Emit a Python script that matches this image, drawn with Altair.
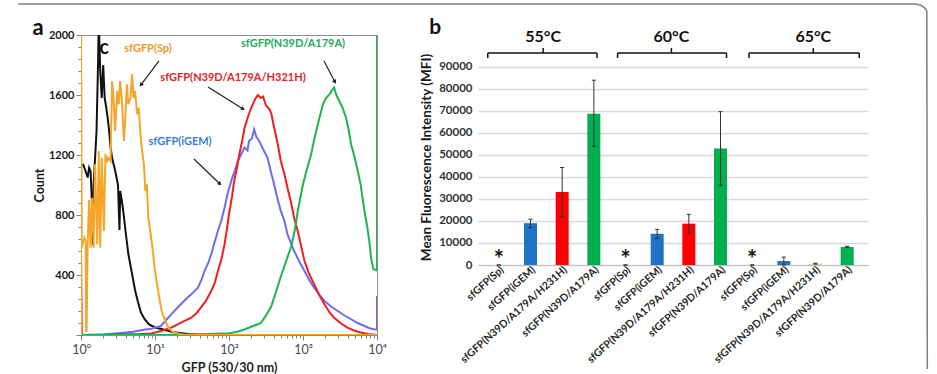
import altair as alt
import pandas as pd

# ---------------- panel a : flow-cytometry histograms (x stored as log10 GFP) ----------------
BLACK_EXP = [0.00, 0.03, 0.06, 0.09, 0.11, 0.13, 0.15, 0.16, 0.17, 0.19, 0.21, 0.23, 0.24, 0.26, 0.28, 0.30,
             0.32, 0.34, 0.36, 0.38, 0.40, 0.42, 0.44, 0.46, 0.48, 0.50, 0.52, 0.53, 0.55, 0.57, 0.60, 0.62,
             0.64, 0.67, 0.70, 0.73, 0.77, 0.81, 0.86, 0.92, 1.00, 1.10, 1.25, 1.45, 1.70, 4.00]
BLACK_CNT = [1130, 1135, 1095, 1050, 1115, 1090, 850, 600, 1000, 1180, 1360, 1800, 2100, 1760, 1580, 1800,
             1580, 1520, 1450, 1360, 1250, 1180, 1140, 1100, 1050, 1000, 700, 960, 900, 830, 700, 620,
             540, 460, 380, 300, 220, 150, 105, 70, 50, 38, 18, 6, 0, 0]

ORANGE_EXP = [0.000, 0.000, 0.010, 0.045, 0.065, 0.070, 0.075, 0.090, 0.110, 0.130, 0.150, 0.170, 0.190,
              0.220, 0.240, 0.260, 0.280, 0.310, 0.330, 0.350, 0.370, 0.400, 0.420, 0.440, 0.460, 0.490,
              0.510, 0.530, 0.550, 0.580, 0.600, 0.620, 0.640, 0.670, 0.690, 0.710, 0.730, 0.760, 0.780,
              0.800, 0.820, 0.850, 0.870, 0.890, 0.910, 0.960, 1.000, 1.050, 1.090, 1.140, 1.180, 1.250,
              1.400, 4.000]
ORANGE_CNT = [0, 2200, 582, 649, 620, 27, 27, 604, 900, 582, 915, 582, 1138, 604, 1227, 582, 1182, 693,
              1205, 1150, 1182, 1160, 1693, 1582, 1360, 1627, 1538, 1693, 1582, 1293, 1471, 1671, 1538,
              1582, 1738, 1582, 1627, 1471, 1515, 1360, 1249, 1138, 960, 1004, 782, 604, 427, 271, 160,
              93, 49, 16, 0, 0]

BLUE_EXP = [0.00, 0.30, 0.50, 0.70, 0.85, 0.95, 1.08, 1.15, 1.22, 1.28, 1.35, 1.42, 1.49, 1.58, 1.63, 1.67,
            1.72, 1.76, 1.80, 1.85, 1.90, 1.94, 1.98, 2.03, 2.08, 2.12, 2.16, 2.21, 2.25, 2.27, 2.31, 2.34,
            2.37, 2.40, 2.43, 2.47, 2.52, 2.56, 2.61, 2.65, 2.70, 2.75, 2.79, 2.84, 2.88, 2.95, 3.02, 3.08,
            3.15, 3.22, 3.29, 3.38, 3.47, 3.56, 3.65, 3.74, 3.83, 3.90, 3.96, 4.00, 4.00]
BLUE_CNT = [0, 4, 12, 22, 35, 42, 60, 100, 138, 170, 205, 240, 271, 315, 370, 427, 480, 538, 610, 693, 770,
            849, 940, 1027, 1100, 1160, 1200, 1249, 1230, 1293, 1310, 1371, 1320, 1300, 1271, 1230, 1182,
            1100, 1004, 920, 827, 760, 671, 610, 560, 490, 427, 370, 315, 270, 227, 190, 160, 130, 105, 80,
            60, 45, 38, 35, 260]

RED_EXP = [0.00, 0.00, 0.01, 0.30, 0.60, 0.80, 0.95, 1.08, 1.22, 1.35, 1.49, 1.56, 1.62, 1.69, 1.76, 1.81,
           1.85, 1.90, 1.94, 1.97, 2.00, 2.04, 2.07, 2.11, 2.14, 2.18, 2.21, 2.26, 2.30, 2.35, 2.39, 2.43,
           2.46, 2.50, 2.54, 2.57, 2.61, 2.66, 2.70, 2.75, 2.79, 2.84, 2.88, 2.92, 2.95, 3.02, 3.08, 3.15,
           3.22, 3.29, 3.36, 3.42, 3.51, 3.60, 3.69, 3.78, 3.88, 4.00]
RED_CNT = [0, 590, 0, 2, 5, 6, 10, 27, 49, 82, 115, 145, 182, 230, 293, 350, 427, 510, 605, 700, 805, 920,
           1027, 1120, 1205, 1300, 1382, 1460, 1515, 1570, 1600, 1580, 1590, 1530, 1510, 1480, 1382, 1270,
           1160, 1070, 982, 880, 782, 710, 649, 493, 410, 338, 265, 205, 150, 115, 78, 49, 30, 16, 6, 0]

GREEN_EXP = [0.00, 1.00, 1.30, 1.60, 1.80, 2.00, 2.10, 2.20, 2.30, 2.38, 2.43, 2.50, 2.57, 2.63, 2.70, 2.77,
             2.84, 2.89, 2.93, 2.97, 3.00, 3.05, 3.11, 3.15, 3.20, 3.24, 3.27, 3.31, 3.36, 3.39, 3.42, 3.45,
             3.49, 3.53, 3.58, 3.62, 3.65, 3.70, 3.74, 3.78, 3.81, 3.84, 3.87, 3.90, 3.92, 3.95, 4.00, 4.00]
GREEN_CNT = [0, 0, 2, 5, 8, 12, 20, 35, 55, 70, 80, 130, 190, 280, 390, 490, 590, 700, 827, 930, 1005, 1100,
             1205, 1300, 1405, 1480, 1538, 1580, 1605, 1630, 1650, 1600, 1560, 1520, 1450, 1360, 1270, 1180,
             1093, 1000, 893, 800, 715, 610, 515, 440, 430, 2200]

CURVES = [
    ("control", BLACK_EXP, BLACK_CNT, "#111111"),
    ("sfGFP(iGEM)", BLUE_EXP, BLUE_CNT, "#6C6CF2"),
    ("sfGFP(N39D/A179A/H321H)", RED_EXP, RED_CNT, "#F01E1E"),
    ("sfGFP(N39D/A179A)", GREEN_EXP, GREEN_CNT, "#1FB548"),
    ("sfGFP(Sp)", ORANGE_EXP, ORANGE_CNT, "#F7A428"),
]

LABEL_TEXT = ["sfGFP(Sp)", "sfGFP(N39D/A179A)", "sfGFP(N39D/A179A/H321H)", "sfGFP(iGEM)"]
LABEL_EXP = [0.905, 2.865, 2.054, 1.338]
LABEL_CNT = [1907, 1940, 1713, 1287]
LABEL_COLOR = ["#F0952A", "#22A95A", "#E5222A", "#2F7FD8"]

ARROW_EXP1 = [1.054, 3.284, 1.716, 1.527]
ARROW_CNT1 = [1827, 1827, 1653, 1173]
ARROW_EXP2 = [0.810, 3.432, 2.190, 1.878]
ARROW_CNT2 = [1667, 1687, 1507, 1007]
ARROW_ANGLE = [217, 152, 122, 134]

XTICKS = [m * 10 ** k for k in range(4) for m in range(1, 10)] + [10000]
YTICKS_A = list(range(0, 2001, 80))

# ---------------- panel b : mean fluorescence intensity ----------------
TEMPS = ["55°C", "60°C", "65°C"]
VARIANTS = ["sfGFP(Sp)", "sfGFP(iGEM)", "sfGFP(N39D/A179A/H231H)", "sfGFP(N39D/A179A)"]
MFI = [0, 19000, 33200, 68800, 0, 14200, 18800, 53000, 0, 1800, 600, 8200]
ERR_LO = [0, 17000, 22000, 53800, 0, 12100, 14400, 36200, 0, 0, 400, 7900]
ERR_HI = [0, 20800, 44300, 84000, 0, 16200, 23000, 69700, 0, 3600, 800, 8500]
BAR_COLORS = ["#1F72C4", "#1F72C4", "#FF0000", "#00B050",
              "#1F72C4", "#1F72C4", "#FF0000", "#00B050",
              "#1F72C4", "#1F72C4", "#DAD8A6", "#00B050"]
YTICKS_B = list(range(0, 90001, 10000))
YMAX = 104545

BRACKET_X1 = [-0.35, 3.75, 7.90]
BRACKET_X2 = [3.10, 7.19, 11.38]
BRACKET_XC = [1.40, 5.45, 9.93]
BR_Y, BR_END, BR_TOP, BR_LABEL = 96400, 94100, 98600, 103600

# ================= panel a chart =================
rows = []
for name, exps, cnts, col in CURVES:
    for i, (e, c) in enumerate(zip(exps, cnts)):
        rows.append({"series": name, "gfp": 10 ** e, "count": c, "order": i})
curves_df = pd.DataFrame(rows)

xs = alt.Scale(type="log", domain=[1, 10000])
ys = alt.Scale(domain=[0, 2000], nice=False, zero=True)
MAJOR = "indexof([1,10,100,1000,10000], datum.value) >= 0"

x_axis = alt.Axis(
    values=XTICKS,
    labelExpr=MAJOR + " ? '10' + ['⁰','¹','²','³','⁴'][round(log(datum.value)/LN10)] : ''",
    tickSize={"condition": {"test": MAJOR, "value": 5}, "value": 3},
    tickColor="#7F7F7F", domainColor="#8C8C8C", grid=False,
    labelFontSize=12.5, labelColor="#4A4A4A", labelPadding=3, labelFlush=False, labelOverlap=False,
    title="GFP (530/30 nm)", titleFontSize=12.5, titleFontWeight="bold", titleColor="#222222",
    titleX=148, titleY=32, titleAlign="center", titleBaseline="middle",
)
y_axis = alt.Axis(
    values=YTICKS_A,
    labelExpr="datum.value % 400 == 0 && datum.value > 0 ? format(datum.value, 'd') : ''",
    tickSize={"condition": {"test": "datum.value % 400 == 0", "value": 5}, "value": 3},
    tickColor="#7F7F7F", domainColor="#8C8C8C", grid=False,
    labelFontSize=11, labelFontWeight="bold", labelColor="#1A1A1A", labelPadding=2, labelOverlap=False,
    title="Count", titleFontSize=12.5, titleFontWeight="bold", titleColor="#1A1A1A",
    titleX=-42, titleY=150, titleAngle=270, titleAlign="center", titleBaseline="middle",
)

XA = alt.X("gfp:Q", scale=xs, axis=x_axis)
YA = alt.Y("count:Q", scale=ys, axis=y_axis)

layers_a = []
anchor = pd.DataFrame({"gfp": [10 ** ((0.5 - 80) / 74)], "count": [333.5 * 20 / 3]})
layers_a.append(alt.Chart(anchor).mark_point(size=1, opacity=0).encode(x=XA, y=YA))

for name, exps, cnts, col in CURVES:
    layers_a.append(
        alt.Chart(curves_df[curves_df.series == name]).mark_line(color=col, strokeWidth=2, clip=True).encode(
            x=XA, y=YA, order="order:Q",
        )
    )

arrows = pd.DataFrame({
    "gfp": [10 ** e for e in ARROW_EXP1], "count": ARROW_CNT1,
    "g2": [10 ** e for e in ARROW_EXP2], "c2": ARROW_CNT2, "ang": ARROW_ANGLE,
})
layers_a.append(alt.Chart(arrows).mark_rule(color="#222222", strokeWidth=1.2).encode(
    x=XA, y=YA, x2="g2:Q", y2="c2:Q"))
heads = pd.DataFrame({"gfp": arrows["g2"], "count": arrows["c2"], "ang": ARROW_ANGLE})
layers_a.append(alt.Chart(heads).mark_point(shape="triangle-up", filled=True, size=22, color="#222222",
                                            opacity=1).encode(
    x=XA, y=YA, angle=alt.Angle("ang:Q", scale=None)))

labels_a = pd.DataFrame({"text": LABEL_TEXT, "gfp": [10 ** e for e in LABEL_EXP], "count": LABEL_CNT,
                         "col": LABEL_COLOR})
layers_a.append(alt.Chart(labels_a).mark_text(fontSize=11, fontWeight="bold").encode(
    x=XA, y=YA, text="text:N", color=alt.Color("col:N", scale=None)))

letters_a = pd.DataFrame({"text": ["a", "c"], "gfp": [10 ** -0.581, 10 ** 0.31], "count": [2047, 1913],
                          "fs": [22, 20]})
layers_a.append(alt.Chart(letters_a).mark_text(fontWeight="bold", color="#111111").encode(
    x=XA, y=YA, text="text:N", size=alt.Size("fs:Q", scale=None)))

panel_a = alt.layer(*layers_a).properties(
    width=296, height=300, view=alt.ViewBackground(stroke="#8C8C8C", strokeWidth=1))

# ================= panel b chart =================
bars = pd.DataFrame({
    "idx": list(range(12)),
    "temp": [t for t in TEMPS for _ in VARIANTS],
    "variant": VARIANTS * 3,
    "mfi": MFI, "lo": ERR_LO, "hi": ERR_HI, "col": BAR_COLORS,
})
bars["cx1"] = bars["idx"] - 0.065
bars["cx2"] = bars["idx"] + 0.065

bx = alt.Scale(domain=[-0.5, 11.5], nice=False, zero=False)
by = alt.Scale(domain=[0, YMAX], nice=False, zero=True)
variant_js = "[" + ",".join("'" + v + "'" for v in VARIANTS) + "]"

xb_axis = alt.Axis(
    values=list(range(12)), labelExpr=variant_js + "[datum.value % 4]",
    labelAngle=318, labelAlign="right", labelBaseline="middle", labelPadding=3, labelOffset=3,
    labelFontSize=10.5, labelFontWeight="bold", labelColor="#262626",
    labelOverlap=False, labelFlush=False, ticks=False, grid=False,
    domainColor="#BFBFBF", domainWidth=1, title="",
)
yb_axis = alt.Axis(
    values=YTICKS_B, format="d", grid=True, gridColor="#D9D9D9", gridWidth=1.5,
    domain=False, ticks=False, labelFontSize=11.5, labelFontWeight="bold", labelColor="#333333",
    labelPadding=6, title="Mean Fluorescence Intensity (MFI)", titleFontSize=13.5, titleFontWeight="bold",
    titleColor="#1A1A1A", titleX=-52, titleY=122, titleAngle=270, titleAlign="center",
    titleBaseline="middle",
)

XB = alt.X("idx:Q", scale=bx, axis=xb_axis)
YB = alt.Y("mfi:Q", scale=by, axis=yb_axis)

layers_b = []
layers_b.append(alt.Chart(bars).mark_bar(size=13, orient="vertical").encode(
    x=XB, y=YB, color=alt.Color("col:N", scale=None)))

err = pd.DataFrame({"idx": bars["idx"], "mfi": bars["lo"], "hi": bars["hi"]})
layers_b.append(alt.Chart(err).mark_rule(color="#333333", strokeWidth=1).encode(x=XB, y=YB, y2="hi:Q"))
for fld in ["lo", "hi"]:
    caps = pd.DataFrame({"idx": bars["cx1"], "x2": bars["cx2"], "mfi": bars[fld]})
    layers_b.append(alt.Chart(caps).mark_rule(color="#333333", strokeWidth=1).encode(x=XB, x2="x2:Q", y=YB))

stars = bars[bars.variant == "sfGFP(Sp)"][["idx", "mfi"]]
layers_b.append(alt.Chart(stars).mark_text(text="*", fontSize=24, fontWeight="bold", color="#111111",
                                           baseline="alphabetic", dy=3).encode(x=XB, y=YB))

seg = []
for x1, x2, xc in zip(BRACKET_X1, BRACKET_X2, BRACKET_XC):
    seg.append({"idx": x1, "x2": x2, "mfi": BR_Y, "y2": BR_Y})
    seg.append({"idx": x1, "x2": x1, "mfi": BR_Y, "y2": BR_END})
    seg.append({"idx": x2, "x2": x2, "mfi": BR_Y, "y2": BR_END})
    seg.append({"idx": xc, "x2": xc, "mfi": BR_Y, "y2": BR_TOP})
seg_df = pd.DataFrame(seg)
layers_b.append(alt.Chart(seg_df).mark_rule(color="#111111", strokeWidth=1.5).encode(
    x=XB, x2="x2:Q", y=YB, y2="y2:Q"))

temp_df = pd.DataFrame({"text": TEMPS, "idx": BRACKET_XC, "mfi": [BR_LABEL] * 3})
layers_b.append(alt.Chart(temp_df).mark_text(fontSize=16, fontWeight="bold", color="#111111").encode(
    x=XB, y=YB, text="text:N"))


def b_x(px):
    return (px - 477) / 32.5 - 0.5


def b_y(py):
    return (264 - py) / 230 * YMAX


layers_b.append(alt.Chart(pd.DataFrame({"text": ["b"], "idx": [b_x(428)], "mfi": [b_y(27)]})).mark_text(
    fontSize=21, fontWeight="bold", color="#111111").encode(x=XB, y=YB, text="text:N"))

FRAME_PX = [0, 921, 926, 930, 932.5, 933]
FRAME_PY = [3, 3, 4, 6.5, 10, 368]
frame_df = pd.DataFrame({"idx": [b_x(p) for p in FRAME_PX], "mfi": [b_y(p) for p in FRAME_PY],
                         "o": list(range(len(FRAME_PX)))})
layers_b.append(alt.Chart(frame_df).mark_line(color="#7F7F7F", strokeWidth=1.5).encode(
    x=XB, y=YB, order="o:Q"))

panel_b = alt.layer(*layers_b).properties(width=390, height=230)

chart = alt.hconcat(panel_a, panel_b, spacing=101, bounds="flush").properties(
    padding=0, background="white"
).configure(font="Lato").configure_view(stroke="transparent")

chart.save("out.html", embed_options={"renderer": "svg", "actions": False})
